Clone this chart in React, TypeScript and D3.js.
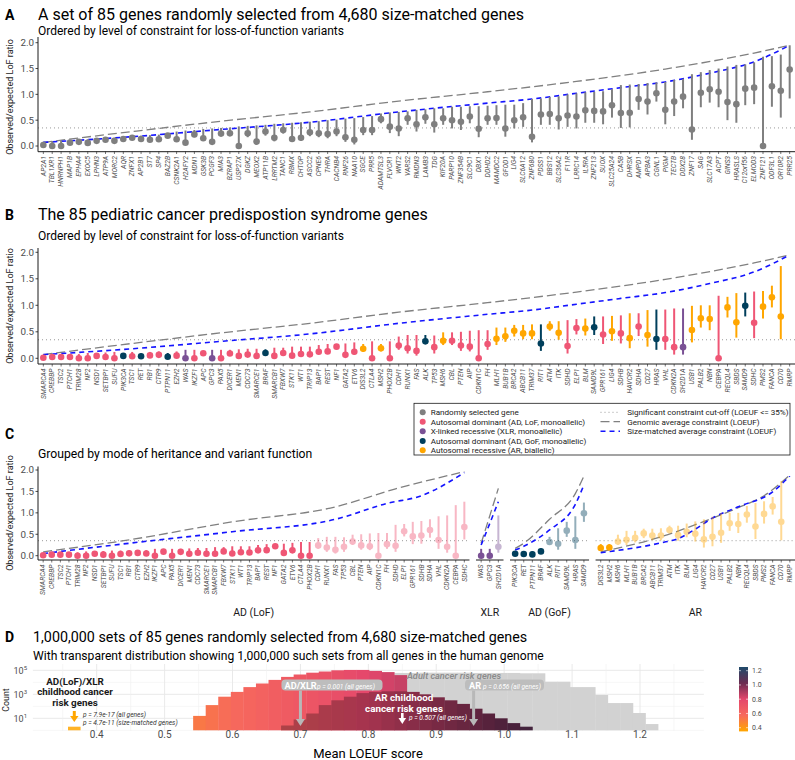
import React from "react";
import * as d3 from "d3";

const FONT = "Roboto, 'Liberation Sans', Arial, sans-serif";

// ---------- Panel A: 85 randomly selected genes ----------
const genesA = [
  "AP2A1", "TBL1XR1", "HNRNPH1", "MAP1B", "EPHA4", "EXOC5", "LPHN3", "ATP9A", "MORC2", "AQR",
  "ZNFX1", "AP2B1", "ST7", "SP4", "BAZ2B", "CSNK2A1", "H2AFY2", "MDN1", "GSK3B", "PCGF3",
  "MIA3", "BZRAP1", "USP27X", "DGKZ", "MEOX2", "ATP11B", "LRRTM2", "TANC1", "RBMX", "CHTOP",
  "ASCC2", "CPNE6", "THRA", "CACNB4", "RNF26", "NAA10", "SGCE", "PRR5", "ADAMTSL3", "FLVCR1",
  "WNT2", "VARS2", "RMDN3", "LAMB3", "TDG", "KIF20A", "PARP10", "ZNF354B", "SLC9C1", "DBX1",
  "DDHD2", "MAMDC2", "GFOD1", "LIG4", "SLC6A12", "ZNF680", "PDSS1", "BBS12", "SLC36A2", "F11R",
  "LRRC14", "IL5RA", "ZNF213", "SUOX", "SLC25A24", "CA5B", "DHRSX", "AMPD1", "APBA3", "CGNL1",
  "PIGM", "TECTB", "DDX28", "ZNF17", "SAG", "SLC17A3", "ACPT", "GINS3", "HRASLS", "C12orf56",
  "ELMOD3", "ZNF121", "ODF3L1", "OR10R2", "PRR25",
];
const estA = [
  0.02, 0.0, 0.0, 0.065, 0.08, 0.06, 0.1, 0.12, 0.1, 0.135,
  0.16, 0.135, 0.12, 0.13, 0.2, 0.13, 0.065, 0.225, 0.15, 0.08,
  0.24, 0.245, 0.0, 0.245, 0.085, 0.28, 0.16, 0.31, 0.135, 0.16,
  0.265, 0.245, 0.23, 0.28, 0.17, 0.12, 0.31, 0.31, 0.52, 0.375,
  0.34, 0.535, 0.42, 0.555, 0.42, 0.535, 0.5, 0.47, 0.57, 0.335,
  0.535, 0.54, 0.34, 0.5, 0.555, 0.18, 0.61, 0.62, 0.535, 0.59,
  0.57, 0.69, 0.68, 0.67, 0.79, 0.64, 0.645, 0.91, 0.86, 1.02,
  0.7, 0.86, 0.955, 0.32, 1.03, 1.1, 1.05, 0.85, 0.81, 1.11,
  1.13, 0.0, 1.155, 1.07, 1.48,
];
const lowerA = [
  0.0, 0.0, 0.0, 0.03, 0.05, 0.03, 0.07, 0.09, 0.07, 0.1,
  0.13, 0.1, 0.09, 0.09, 0.16, 0.08, 0.02, 0.17, 0.1, 0.04,
  0.19, 0.2, 0.0, 0.17, 0.03, 0.2, 0.09, 0.24, 0.08, 0.1,
  0.19, 0.17, 0.15, 0.19, 0.08, 0.03, 0.21, 0.21, 0.44, 0.25,
  0.19, 0.41, 0.28, 0.43, 0.26, 0.41, 0.34, 0.31, 0.44, 0.17,
  0.41, 0.41, 0.18, 0.34, 0.37, 0.07, 0.41, 0.41, 0.32, 0.37,
  0.34, 0.45, 0.45, 0.42, 0.55, 0.35, 0.36, 0.7, 0.61, 0.86,
  0.42, 0.58, 0.73, 0.12, 0.75, 0.84, 0.75, 0.5, 0.45, 0.79,
  0.81, 0.0, 0.76, 0.55, 0.92,
];
const upperA = [
  0.08, 0.09, 0.1, 0.11, 0.12, 0.13, 0.14, 0.15, 0.16, 0.17,
  0.19, 0.2, 0.21, 0.22, 0.24, 0.28, 0.3, 0.31, 0.33, 0.34,
  0.35, 0.36, 0.38, 0.39, 0.4, 0.41, 0.43, 0.44, 0.45, 0.46,
  0.47, 0.48, 0.5, 0.51, 0.53, 0.54, 0.56, 0.58, 0.63, 0.65,
  0.66, 0.67, 0.7, 0.71, 0.73, 0.73, 0.76, 0.76, 0.77, 0.77,
  0.78, 0.79, 0.8, 0.8, 0.83, 0.91, 0.92, 0.95, 0.96, 1.0,
  1.02, 1.04, 1.05, 1.06, 1.1, 1.18, 1.19, 1.2, 1.22, 1.23,
  1.24, 1.28, 1.3, 1.39, 1.43, 1.47, 1.5, 1.54, 1.57, 1.58,
  1.62, 1.73, 1.74, 1.77, 1.95,
];

// ---------- Panel B/C: 85 pediatric cancer predisposition genes ----------
const genesB = [
  "SMARCA4", "CREBBP", "TSC2", "PTCH1", "TRIM28", "NF2", "NSD1", "SETBP1", "SUFU", "PIK3CA",
  "TSC1", "RET", "RB1", "CTR9", "PTPN11", "EZH2", "WAS", "IKZF1", "APC", "GPC3",
  "PAX5", "DICER1", "MEN1", "CDC73", "SMARCE1", "BRAF", "SMARCB1", "FBXW7", "STK11", "WT1",
  "TRIP13", "BAP1", "REST", "NF1", "GATA2", "ETV6", "DIS3L2", "CTLA4", "MSH2", "PHOX2B",
  "CDH1", "RUNX1", "FAS", "ALK", "TP53", "MSH6", "CBL", "PTEN", "AIP", "CDKN1C",
  "FH", "MLH1", "BUB1B", "BRCA2", "ABCB11", "TRIM37", "RIT1", "ATM", "ITK", "SDHD",
  "ELP1", "BLM", "SAMD9L", "GPR161", "LIG4", "SDHB", "HAVCR2", "SDHA", "CD27", "HRAS",
  "VHL", "CDKN2A", "SH2D1A", "USB1", "PALB2", "NBN", "CEBPA", "RECQL4", "SBDS", "SAMD9",
  "SDHC", "PMS2", "FANCA", "CD70", "RMRP",
];
// L = AD LoF, X = XLR, G = AD GoF, R = AR
const modeB = [
  "L", "L", "L", "L", "L", "L", "L", "L", "L", "G",
  "L", "G", "L", "L", "G", "L", "X", "L", "L", "X",
  "L", "L", "L", "L", "L", "G", "L", "L", "L", "L",
  "L", "L", "L", "L", "L", "L", "R", "L", "R", "L",
  "L", "L", "L", "G", "L", "R", "L", "L", "L", "L",
  "L", "R", "R", "R", "R", "R", "G", "R", "R", "L",
  "L", "R", "G", "L", "R", "L", "R", "L", "R", "G",
  "L", "L", "X", "R", "R", "R", "L", "R", "R", "G",
  "L", "R", "R", "R", "R",
];
const estB = [
  0.01, 0.025, 0.025, 0.025, 0.0, 0.0, 0.045, 0.025, 0.0, 0.045,
  0.04, 0.04, 0.055, 0.065, 0.03, 0.05, 0.0, 0.0, 0.095, 0.0,
  0.0, 0.09, 0.045, 0.07, 0.045, 0.1, 0.045, 0.1, 0.05, 0.08,
  0.075, 0.125, 0.13, 0.22, 0.065, 0.125, 0.18, 0.0, 0.19, 0.0,
  0.24, 0.19, 0.14, 0.32, 0.21, 0.33, 0.33, 0.24, 0.22, 0.0,
  0.27, 0.37, 0.415, 0.52, 0.47, 0.47, 0.28, 0.6, 0.48, 0.23,
  0.57, 0.56, 0.585, 0.45, 0.51, 0.47, 0.38, 0.6, 0.44, 0.365,
  0.365, 0.21, 0.21, 0.535, 0.755, 0.74, 0.0, 0.96, 0.68, 0.99,
  0.67, 0.975, 1.15, 0.79, null,
];
const lowerB = [
  0.0, 0.01, 0.01, 0.01, 0.0, 0.0, 0.02, 0.01, 0.0, 0.02,
  0.02, 0.02, 0.03, 0.04, 0.01, 0.03, 0.0, 0.0, 0.06, 0.0,
  0.0, 0.06, 0.02, 0.04, 0.02, 0.06, 0.02, 0.06, 0.02, 0.05,
  0.04, 0.08, 0.08, 0.17, 0.03, 0.07, 0.12, 0.0, 0.13, 0.0,
  0.16, 0.09, 0.05, 0.27, 0.09, 0.25, 0.25, 0.14, 0.13, 0.0,
  0.16, 0.25, 0.31, 0.41, 0.36, 0.36, 0.14, 0.52, 0.35, 0.09,
  0.45, 0.43, 0.44, 0.27, 0.33, 0.28, 0.19, 0.42, 0.22, 0.16,
  0.16, 0.07, 0.07, 0.3, 0.58, 0.53, 0.0, 0.77, 0.39, 0.79,
  0.38, 0.75, 0.96, 0.36, null,
];
const upperB = [
  0.05, 0.06, 0.07, 0.08, 0.08, 0.1, 0.1, 0.11, 0.12, 0.1,
  0.12, 0.09, 0.12, 0.13, 0.1, 0.13, 0.16, 0.16, 0.14, 0.16,
  0.16, 0.16, 0.17, 0.18, 0.18, 0.17, 0.2, 0.2, 0.22, 0.22,
  0.22, 0.25, 0.27, 0.27, 0.28, 0.3, 0.27, 0.32, 0.27, 0.32,
  0.41, 0.44, 0.44, 0.44, 0.43, 0.49, 0.49, 0.5, 0.52, 0.53,
  0.53, 0.58, 0.58, 0.63, 0.63, 0.64, 0.64, 0.7, 0.7, 0.72,
  0.74, 0.75, 0.79, 0.79, 0.8, 0.81, 0.85, 0.85, 0.91, 0.92,
  0.92, 0.94, 0.94, 0.99, 1.0, 1.0, 1.18, 1.16, 1.23, 1.24,
  1.26, 1.27, 1.37, 1.74, null,
];

// expected constraint by rank (85-gene sets, panels A and B)
const genomicRank85 = [0, 10, 20, 30, 40, 50, 60, 70, 80, 84];
const genomicAvg85 = [0.07, 0.28, 0.48, 0.66, 0.87, 1.05, 1.25, 1.49, 1.8, 1.95];
const sizeRank85 = [0, 10, 20, 30, 40, 50, 55, 60, 65, 70, 75, 80, 84];
const sizeMatched85 = [0.07, 0.18, 0.32, 0.46, 0.66, 0.83, 0.91, 1.02, 1.13, 1.24, 1.41, 1.63, 1.95];

// panel C facets
const facetModes = ["L", "X", "G", "R"];
const facetNames = ["AD (LoF)", "XLR", "AD (GoF)", "AR"];
const facetGenomicRank = [[0, 10, 22, 34, 41, 49], [0, 1, 2], [0, 1, 4, 7, 8], [0, 7, 12, 16, 19, 22]];
const facetGenomicVal = [[0.09, 0.37, 0.79, 1.14, 1.56, 1.96], [0.29, 0.93, 1.57], [0.17, 0.29, 0.85, 1.45, 1.86], [0.09, 0.44, 0.8, 1.12, 1.4, 1.88]];
const facetSizeRank = [[0, 10, 22, 34, 40, 44, 49], [0, 1, 2], [0, 1, 4, 7, 8], [0, 7, 9, 11, 13, 16, 20, 22]];
const facetSizeVal = [[0.05, 0.29, 0.56, 0.85, 1.22, 1.4, 1.94], [0.25, 0.75, 1.26], [0.13, 0.22, 0.6, 1.2, 1.65], [0.07, 0.3, 0.4, 0.62, 0.88, 1.14, 1.49, 1.86]];

const cutoff = 0.35;

// ---------- Panel D: histograms of mean LOEUF (log10 counts per bin) ----------
const binStartD = 0.542;
const binWidthD = 0.0185;
// size-matched sets, bins 0..16
const sizeMatchedLog = [1.2, 2.1, 2.8, 3.2, 3.6, 3.9, 4.2, 4.45, 4.65, 4.8, 4.9, 5.0, 5.03, 5.03, 4.95, 4.85, 4.6];
// all-gene sets, bins 14..36
const allGenesFirstBin = 14;
const allGenesLog = [4.8, 4.8, 4.78, 4.78, 4.8, 4.8, 4.8, 4.8, 4.78, 4.78, 4.78, 4.78, 4.75, 4.75, 4.05, 4.05, 3.6, 3.6, 2.94, 2.27, 2.27, 1.44, 0.52];
// dark distribution, bins 7..26
const darkFirstBin = 7;
const darkLog = [0.4, 0.9, 1.4, 2.1, 2.5, 2.8, 3.1, 3.2, 3.25, 3.25, 3.2, 3.0, 2.75, 2.5, 2.2, 1.8, 1.4, 1.0, 0.6, 0.3];

const observedAdXlr = 0.367;
const observedAdXlrLog = 0.3;
const observedArChild = 0.85;
const adultAdXlr = 0.7;
const adultAr = 0.955;

const colorStops = [0.4, 0.6, 0.8, 1.0, 1.2];
const colorRange = ["#ffa600", "#f7695c", "#e4476c", "#6a2c50", "#1f4b6b"];

const MODE_COLOR: Record<string, string> = {
  N: "#7f7f7f",
  L: "#ef5675",
  X: "#7a5195",
  G: "#003f5c",
  R: "#ffa600",
};

const AXIS = "#1a1a1a";
const TICKTXT = "#4d4d4d";
const GREY_DASH = "#808080";
const BLUE_DASH = "#1414ff";

function YAxis({ x, y, top, bottom }: any) {
  const ticks = [0, 0.5, 1, 1.5, 2];
  return (
    <g>
      <line x1={x} x2={x} y1={top} y2={bottom} stroke={AXIS} strokeWidth={1} />
      {ticks.map((t) => (
        <g key={t}>
          <line x1={x - 2.5} x2={x} y1={y(t)} y2={y(t)} stroke={AXIS} strokeWidth={0.8} />
          <text x={x - 4} y={y(t)} dy="0.35em" textAnchor="end" fontSize={9.8} fill={TICKTXT}>
            {d3.format(".1f")(t)}
          </text>
        </g>
      ))}
    </g>
  );
}

function GeneLabels({ names, xs, y0 }: any) {
  return (
    <g>
      {names.map((g: string, i: number) => (
        <g key={g + i}>
          <line x1={xs[i]} x2={xs[i]} y1={y0 - 3} y2={y0 - 0.5} stroke={AXIS} strokeWidth={0.6} />
          <text
            transform={`translate(${xs[i]},${y0 + 1.5}) rotate(-90)`}
            dy="0.33em"
            textAnchor="end"
            fontSize={6.8}
            fontStyle="italic"
            fill={TICKTXT}
          >
            {g}
          </text>
        </g>
      ))}
    </g>
  );
}

function Curve({ ranks, vals, rx, y, color, dash, width }: any) {
  const line = d3
    .line<number>()
    .x((_, j) => rx(ranks[j]))
    .y((v) => y(v))
    .curve(d3.curveMonotoneX);
  return <path d={line(vals) || ""} fill="none" stroke={color} strokeWidth={width} strokeDasharray={dash} />;
}

function Lolli({ cx, est, lo, hi, y, color, opacity = 1 }: any) {
  if (est === null || est === undefined) return null;
  return (
    <g opacity={opacity}>
      <line x1={cx} x2={cx} y1={y(lo)} y2={y(hi)} stroke={color} strokeWidth={2} />
      <circle cx={cx} cy={y(est)} r={3.3} fill={color} />
    </g>
  );
}

function YTitle({ cy }: any) {
  return (
    <text transform={`translate(13,${cy}) rotate(-90)`} textAnchor="middle" fontSize={9} fill="#1a1a1a">
      Observed/expected LoF ratio
    </text>
  );
}

function PanelHeader({ letter, title, ty, sub, sy, tx = 38, titleSize = 16, subSize = 12 }: any) {
  return (
    <g>
      <text x={5} y={ty} fontSize={14} fontWeight="bold" fill="#000">{letter}</text>
      {title && <text x={tx} y={ty} fontSize={titleSize} fill="#000">{title}</text>}
      {sub && <text x={tx} y={sy} fontSize={subSize} fill="#000">{sub}</text>}
    </g>
  );
}

export default function App() {
  const left = 38;
  const right = 795;
  const idx = d3.range(85);

  // ----- A -----
  const xA = d3.scalePoint<number>().domain(idx).range([left, right]).padding(0.6);
  const posA = idx.map((i) => xA(i) as number);
  const rA = d3.scaleLinear().domain([0, 84]).range([posA[0], posA[84]]);
  const yA = d3.scaleLinear().domain([0, 2]).range([146, 42.7]);

  // ----- B -----
  const yB = d3.scaleLinear().domain([0, 2]).range([358.3, 252.3]);

  // ----- C -----
  const yC = d3.scaleLinear().domain([0, 2]).range([555.7, 470]);
  const gapC = 6.5;
  const facetIdx = facetModes.map((m) => idx.filter((i) => modeB[i] === m));
  const units = d3.sum(facetIdx, (f) => f.length - 1 + 1.2);
  const stepC = (right - left - gapC * 3) / units;
  let cursor = left;
  const facets = facetIdx.map((f, k) => {
    const w = (f.length - 1 + 1.2) * stepC;
    const xs = d3.scalePoint<number>().domain(d3.range(f.length)).range([cursor, cursor + w]).padding(0.6);
    const out = { k, ids: f, x0: cursor, x1: cursor + w, xs, rx: d3.scaleLinear().domain([0, f.length - 1]).range([xs(0) as number, xs(f.length - 1) as number]) };
    cursor += w + gapC;
    return out;
  });

  // ----- D -----
  const xD = d3.scaleLinear().domain([0.4, 1.2]).range([96.7, 640]);
  const yD = d3.scaleLinear().domain([0, 5]).range([730.3, 670.3]);
  const colorD = d3.scaleLinear<string>().domain(colorStops).range(colorRange).interpolate(d3.interpolateRgb);
  const gridL = xD(0.306);
  const gridR = xD(1.294);
  const binRect = (k: number, v: number, fill: string, key: string) => {
    const a = binStartD + k * binWidthD;
    const b = a + binWidthD;
    return (
      <rect key={key} x={xD(a)} y={yD(v)} width={xD(b) - xD(a) + 0.4} height={yD(0) - yD(v)} fill={fill} />
    );
  };

  const legendRows = [
    ["N", "Randomly selected gene"],
    ["L", "Autosomal dominant (AD, LoF, monoallelic)"],
    ["X", "X-linked recessive (XLR, monoallelic)"],
    ["G", "Autosomal dominant (AD, GoF, monoallelic)"],
    ["R", "Autosomal recessive (AR, biallelic)"],
  ];
  const legendLines = [
    ["#999", "1,3", 1, "Significant constraint cut-off (LOEUF <= 35%)"],
    [GREY_DASH, "9,4", 1.3, "Genomic average constraint (LOEUF)"],
    [BLUE_DASH, "5,4", 1.6, "Size-matched average constraint (LOEUF)"],
  ];
  const legendY = [412.3, 421.7, 431.3, 441, 450.3];

  return (
    <svg
      width={795}
      height={760}
      style={{ position: "absolute", left: 0, top: 0, fontFamily: FONT }}
    >
      <rect width={795} height={760} fill="#fff" />

      {/* ================= A ================= */}
      <PanelHeader
        letter="A"
        title="A set of 85 genes randomly selected from 4,680 size-matched genes"
        ty={19.5}
        sub="Ordered by level of constraint for loss-of-function variants"
        sy={34.5}
      />
      <line x1={left} x2={right} y1={yA(cutoff)} y2={yA(cutoff)} stroke="#999" strokeDasharray="1,3" />
      <Curve ranks={genomicRank85} vals={genomicAvg85} rx={rA} y={yA} color={GREY_DASH} dash="9,4" width={1.3} />
      <Curve ranks={sizeRank85} vals={sizeMatched85} rx={rA} y={yA} color={BLUE_DASH} dash="5,4" width={1.6} />
      {idx.map((i) => (
        <Lolli key={i} cx={posA[i]} est={estA[i]} lo={lowerA[i]} hi={upperA[i]} y={yA} color={MODE_COLOR.N} />
      ))}
      <YAxis x={left} y={yA} top={37} bottom={151.7} />
      <line x1={left} x2={right} y1={151.7} y2={151.7} stroke={AXIS} strokeWidth={1} />
      <GeneLabels names={genesA} xs={posA} y0={154.5} />
      <YTitle cy={97} />

      {/* ================= B ================= */}
      <PanelHeader
        letter="B"
        title="The 85 pediatric cancer predispostion syndrome genes"
        ty={220}
        sub="Ordered by level of constraint for loss-of-function variants"
        sy={239.5}
      />
      <line x1={left} x2={right} y1={yB(cutoff)} y2={yB(cutoff)} stroke="#999" strokeDasharray="1,3" />
      <Curve ranks={genomicRank85} vals={genomicAvg85} rx={rA} y={yB} color={GREY_DASH} dash="9,4" width={1.3} />
      <Curve ranks={sizeRank85} vals={sizeMatched85} rx={rA} y={yB} color={BLUE_DASH} dash="5,4" width={1.6} />
      {idx.map((i) => (
        <Lolli key={i} cx={posA[i]} est={estB[i]} lo={lowerB[i]} hi={upperB[i]} y={yB} color={MODE_COLOR[modeB[i]]} />
      ))}
      <YAxis x={left} y={yB} top={248} bottom={364} />
      <line x1={left} x2={right} y1={364} y2={364} stroke={AXIS} strokeWidth={1} />
      <GeneLabels names={genesB} xs={posA} y0={367} />
      <YTitle cy={306} />

      {/* legend */}
      <g fontSize={8.1} fill="#1a1a1a">
        <rect x={414} y={403.3} width={376} height={51.7} fill="#fff" stroke="#1a1a1a" strokeWidth={0.8} />
        {legendRows.map(([m, label], j) => (
          <g key={m}>
            <circle cx={422.7} cy={legendY[j]} r={3} fill={MODE_COLOR[m]} />
            <text x={430.7} y={legendY[j]} dy="0.35em">{label}</text>
          </g>
        ))}
        {legendLines.map(([c, dash, w, label], j) => (
          <g key={label as string}>
            <line x1={600.5} x2={620} y1={legendY[j]} y2={legendY[j]} stroke={c as string} strokeDasharray={dash as string} strokeWidth={w as number} />
            <text x={627.3} y={legendY[j]} dy="0.35em">{label}</text>
          </g>
        ))}
      </g>

      {/* ================= C ================= */}
      <PanelHeader letter="C" ty={438.5} />
      <text x={38} y={457.8} fontSize={12.2} fill="#000">Grouped by mode of heritance and variant function</text>
      {facets.map((f) => (
        <g key={f.k}>
          <line x1={f.x0} x2={f.x1} y1={yC(cutoff)} y2={yC(cutoff)} stroke="#999" strokeDasharray="1,3" />
          <Curve ranks={facetGenomicRank[f.k]} vals={facetGenomicVal[f.k]} rx={f.rx} y={yC} color={GREY_DASH} dash="9,4" width={1.3} />
          <Curve ranks={facetSizeRank[f.k]} vals={facetSizeVal[f.k]} rx={f.rx} y={yC} color={BLUE_DASH} dash="5,4" width={1.6} />
          {f.ids.map((gi, j) => (
            <Lolli
              key={gi}
              cx={f.xs(j)}
              est={estB[gi]}
              lo={lowerB[gi]}
              hi={upperB[gi]}
              y={yC}
              color={MODE_COLOR[modeB[gi]]}
              opacity={(upperB[gi] as number) <= cutoff ? 1 : 0.42}
            />
          ))}
          <line x1={f.x0} x2={f.x1} y1={560} y2={560} stroke={AXIS} strokeWidth={1} />
          <GeneLabels names={f.ids.map((gi) => genesB[gi])} xs={f.ids.map((_, j) => f.xs(j))} y0={563} />
          <text x={(f.x0 + f.x1) / 2} y={616} textAnchor="middle" fontSize={10.5} fill="#1a1a1a">
            {facetNames[f.k]}
          </text>
        </g>
      ))}
      <YAxis x={left} y={yC} top={466.5} bottom={560} />
      <YTitle cy={513} />

      {/* ================= D ================= */}
      <PanelHeader
        letter="D"
        title="1,000,000 sets of 85 genes randomly selected from 4,680 size-matched genes"
        ty={641.5}
        sub="With transparent distribution showing 1,000,000 such sets from all genes in the human genome"
        sy={659.5}
        tx={33}
        titleSize={14.3}
        subSize={12.1}
      />
      {/* grid */}
      <g>
        {[0, 1, 2, 3, 4, 5].map((e) => (
          <line key={"h" + e} x1={gridL} x2={gridR} y1={yD(e)} y2={yD(e)} stroke={e % 2 === 1 ? "#e6e6e6" : "#f0f0f0"} strokeWidth={e % 2 === 1 ? 0.9 : 0.6} />
        ))}
        {d3.range(0.35, 1.3, 0.05).map((v, j) => (
          <line key={"v" + j} x1={xD(v)} x2={xD(v)} y1={664} y2={731} stroke={j % 2 === 1 ? "#e6e6e6" : "#f0f0f0"} strokeWidth={j % 2 === 1 ? 0.9 : 0.6} />
        ))}
      </g>
      {/* histograms */}
      {allGenesLog.map((v, j) => binRect(allGenesFirstBin + j, v, "#d2d2d2", "g" + j))}
      {sizeMatchedLog.map((v, k) =>
        binRect(k, v, colorD(binStartD + (k + 0.5) * binWidthD), "s" + k)
      )}
      {darkLog.map((v, j) => {
        const k = darkFirstBin + j;
        const c = d3.color(colorD(binStartD + (k + 0.5) * binWidthD))!.darker(0.9).formatHex();
        return binRect(k, v, c, "d" + j);
      })}
      {/* observed AD(LoF)/XLR */}
      <rect
        x={xD(observedAdXlr - binWidthD / 2)}
        y={yD(observedAdXlrLog)}
        width={xD(observedAdXlr + binWidthD / 2) - xD(observedAdXlr - binWidthD / 2)}
        height={yD(0) - yD(observedAdXlrLog)}
        fill="#ffa600"
        opacity={0.85}
      />
      <line x1={xD(observedAdXlr)} x2={xD(observedAdXlr)} y1={711} y2={716.5} stroke="#ffa600" strokeWidth={3} />
      <path d={`M${xD(observedAdXlr) - 4.2},${716} L${xD(observedAdXlr) + 4.2},${716} L${xD(observedAdXlr)},${722} Z`} fill="#ffa600" />
      <g fontWeight="bold" fontSize={9.8} fill="#1a1a1a" textAnchor="middle">
        <text x={75} y={684.5}>AD(LoF)/XLR</text>
        <text x={75} y={695.3}>childhood cancer</text>
        <text x={75} y={706}>risk genes</text>
      </g>
      <g fontStyle="italic" fontSize={6.6} fill="#333">
        <text x={83} y={716.5}>p = 7.9e-17 (all genes)</text>
        <text x={83} y={724.5}>p = 4.7e-11 (size-matched genes)</text>
      </g>

      {/* adult cancer risk genes */}
      <text x={454} y={679} textAnchor="middle" fontSize={9.2} fontStyle="italic" fontWeight={600} fill="#8c8c8c">
        Adult cancer risk genes
      </text>
      <rect x={281.5} y={679.5} width={101} height={11} rx={4} fill="#bdbdbd" />
      <text x={284.5} y={688.5} fontSize={9.2} fontWeight="bold" fill="#fff">AD/XLR</text>
      <text x={317} y={689} fontSize={6.6} fontStyle="italic" fill="#fff">p = 0.001 (all genes)</text>
      <line x1={xD(adultAdXlr)} x2={xD(adultAdXlr)} y1={690.5} y2={720} stroke="#b8b8b8" strokeWidth={3} />
      <path d={`M${xD(adultAdXlr) - 4.5},${719} L${xD(adultAdXlr) + 4.5},${719} L${xD(adultAdXlr)},${726} Z`} fill="#b8b8b8" />

      <rect x={465} y={679.5} width={79} height={11} rx={4} fill="#bdbdbd" />
      <text x={469} y={688.5} fontSize={9.2} fontWeight="bold" fill="#fff">AR</text>
      <text x={483} y={689} fontSize={6.6} fontStyle="italic" fill="#fff">p = 0.656 (all genes)</text>
      <line x1={xD(adultAr)} x2={xD(adultAr)} y1={690.5} y2={720} stroke="#b8b8b8" strokeWidth={3} />
      <path d={`M${xD(adultAr) - 4.5},${719} L${xD(adultAr) + 4.5},${719} L${xD(adultAr)},${726} Z`} fill="#b8b8b8" />

      {/* AR childhood */}
      <g fontWeight="bold" fontSize={9.8} fill="#fff" textAnchor="middle">
        <text x={404} y={701}>AR childhood</text>
        <text x={404} y={711.8}>cancer risk genes</text>
      </g>
      <line x1={xD(observedArChild)} x2={xD(observedArChild)} y1={713} y2={718.5} stroke="#fff" strokeWidth={2.6} />
      <path d={`M${xD(observedArChild) - 3.8},${718} L${xD(observedArChild) + 3.8},${718} L${xD(observedArChild)},${724} Z`} fill="#fff" />
      <text x={409} y={720} fontSize={6.6} fontStyle="italic" fill="#fff">p = 0.507 (all genes)</text>

      {/* axes D */}
      {d3.range(0.4, 1.21, 0.1).map((v) => (
        <text key={v} x={xD(v)} y={738} textAnchor="middle" fontSize={10} fill={TICKTXT}>
          {d3.format(".1f")(v)}
        </text>
      ))}
      <text x={368} y={758} textAnchor="middle" fontSize={13} fill="#000">Mean LOEUF score</text>
      {[1, 3, 5].map((e) => (
        <text key={e} x={27} y={yD(e) + 3.3} textAnchor="end" fontSize={9} fill={TICKTXT}>
          10<tspan dy={-4} fontSize={6}>{e}</tspan>
        </text>
      ))}
      <text transform="translate(9,700) rotate(-90)" textAnchor="middle" fontSize={8.8} fill="#1a1a1a">Count</text>

      {/* colour bar */}
      <defs>
        <linearGradient id="cbar" x1="0" y1="1" x2="0" y2="0">
          {colorStops.map((s, j) => (
            <stop key={s} offset={`${(j / (colorStops.length - 1)) * 100}%`} stopColor={colorRange[j]} />
          ))}
        </linearGradient>
      </defs>
      {(() => {
        const cb = d3.scaleLinear().domain([0.4, 1.2]).range([727.7, 670.7]);
        return (
          <g>
            <rect x={739} y={cb(1.2) - 3.7} width={9} height={cb(0.4) - cb(1.2) + 7.4} fill="url(#cbar)" />
            {colorStops.map((s) => (
              <g key={s}>
                <line x1={739} x2={741} y1={cb(s)} y2={cb(s)} stroke="#fff" strokeWidth={0.6} />
                <line x1={746} x2={748} y1={cb(s)} y2={cb(s)} stroke="#fff" strokeWidth={0.6} />
                <text x={752} y={cb(s)} dy="0.35em" fontSize={7} fill={TICKTXT}>
                  {d3.format(".1f")(s)}
                </text>
              </g>
            ))}
          </g>
        );
      })()}
    </svg>
  );
}
